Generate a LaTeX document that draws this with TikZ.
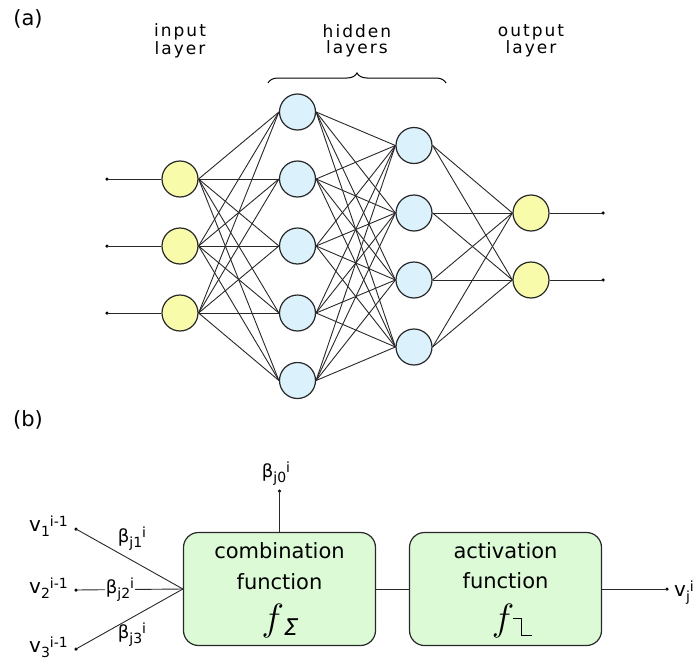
\RequirePackage{fix-cm}
\documentclass[tikz,border=0pt]{standalone}
\usepackage{fontspec}
\setmainfont{DejaVu Sans}
\newfontfamily\spacedfont[LetterSpace=12]{DejaVu Sans}
\usetikzlibrary{decorations.pathreplacing}
\definecolor{nn_yellow}{RGB}{248, 251, 170}
\definecolor{nn_blue}{RGB}{219, 241, 252}
\definecolor{nn_green}{RGB}{221, 250, 215}
\definecolor{nn_line}{RGB}{40, 40, 40}
\tikzstyle{yn}=[circle,fill=nn_yellow,draw=nn_line,
  line width=1.2pt,inner sep=0pt,minimum size=36pt]
\tikzstyle{bn}=[circle,fill=nn_blue,draw=nn_line,
  line width=1.2pt,inner sep=0pt,minimum size=36pt]
\tikzstyle{fbox}=[rectangle,rounded corners=15pt,fill=nn_green,draw=nn_line,
  line width=1.2pt,minimum width=192pt,minimum height=113pt]
\tikzstyle{dot}=[circle,fill=black,inner sep=0pt,minimum size=3.5pt]
\tikzstyle{edge}=[draw=nn_line,line width=0.9pt]
\tikzstyle{layer}=[align=center,inner sep=0pt,
  font=\spacedfont\fontsize{17}{15.5}\selectfont]
\tikzstyle{lbl}=[inner sep=0pt,font=\fontsize{20}{20}\selectfont]
\tikzstyle{blbl}=[inner sep=0pt,font=\fontsize{18}{18}\selectfont]
\tikzstyle{btext}=[inner sep=0pt,anchor=base,font=\fontsize{21}{21}\selectfont]
\tikzstyle{none}=[]
\newcommand{\idx}[2]{%
  \raisebox{-5pt}{\fontsize{14}{14}\selectfont #1}%
  \raisebox{5pt}{\fontsize{14}{14}\selectfont #2}}

\begin{document}
\begin{tikzpicture}[x=1pt, y=-1pt]
            \useasboundingbox (0, 0) rectangle (697, 664);
            % (a) network
            \node [style=dot] (0) at (107, 179) {};
            \node [style=dot] (1) at (107, 246) {};
            \node [style=dot] (2) at (107, 313) {};
            \node [style=yn] (3) at (180, 179) {};
            \node [style=yn] (4) at (180, 246) {};
            \node [style=yn] (5) at (180, 313) {};
            \node [style=bn] (6) at (297.5, 112) {};
            \node [style=bn] (7) at (297.5, 179) {};
            \node [style=bn] (8) at (297.5, 246) {};
            \node [style=bn] (9) at (297.5, 313) {};
            \node [style=bn] (10) at (297.5, 380.5) {};
            \node [style=bn] (11) at (414, 145.5) {};
            \node [style=bn] (12) at (414, 213) {};
            \node [style=bn] (13) at (414, 280) {};
            \node [style=bn] (14) at (414, 347) {};
            \node [style=yn] (15) at (531, 213) {};
            \node [style=yn] (16) at (531, 280) {};
            \node [style=dot] (17) at (603, 213) {};
            \node [style=dot] (18) at (603, 280) {};
            \node [style=none, font=\fontsize{21}{21}\selectfont] (19) at (28, 19) {(a)};
            \node [style=layer] (20) at (180, 41) {input\\layer};
            \node [style=layer] (21) at (357, 41) {hidden\\layers};
            \node [style=layer] (22) at (531, 41) {output\\layer};
            \draw [line width=1pt, decorate, decoration={brace, amplitude=10pt}] (268, 83) -- (446, 83);
            \draw [style=edge] (0.center) to (3.west);
            \draw [style=edge] (1.center) to (4.west);
            \draw [style=edge] (2.center) to (5.west);
            \draw [style=edge] (3.east) to (6.west);
            \draw [style=edge] (3.east) to (7.west);
            \draw [style=edge] (3.east) to (8.west);
            \draw [style=edge] (3.east) to (9.west);
            \draw [style=edge] (3.east) to (10.west);
            \draw [style=edge] (4.east) to (6.west);
            \draw [style=edge] (4.east) to (7.west);
            \draw [style=edge] (4.east) to (8.west);
            \draw [style=edge] (4.east) to (9.west);
            \draw [style=edge] (4.east) to (10.west);
            \draw [style=edge] (5.east) to (6.west);
            \draw [style=edge] (5.east) to (7.west);
            \draw [style=edge] (5.east) to (8.west);
            \draw [style=edge] (5.east) to (9.west);
            \draw [style=edge] (5.east) to (10.west);
            \draw [style=edge] (6.east) to (11.west);
            \draw [style=edge] (6.east) to (12.west);
            \draw [style=edge] (6.east) to (13.west);
            \draw [style=edge] (6.east) to (14.west);
            \draw [style=edge] (7.east) to (11.west);
            \draw [style=edge] (7.east) to (12.west);
            \draw [style=edge] (7.east) to (13.west);
            \draw [style=edge] (7.east) to (14.west);
            \draw [style=edge] (8.east) to (11.west);
            \draw [style=edge] (8.east) to (12.west);
            \draw [style=edge] (8.east) to (13.west);
            \draw [style=edge] (8.east) to (14.west);
            \draw [style=edge] (9.east) to (11.west);
            \draw [style=edge] (9.east) to (12.west);
            \draw [style=edge] (9.east) to (13.west);
            \draw [style=edge] (9.east) to (14.west);
            \draw [style=edge] (10.east) to (11.west);
            \draw [style=edge] (10.east) to (12.west);
            \draw [style=edge] (10.east) to (13.west);
            \draw [style=edge] (10.east) to (14.west);
            \draw [style=edge] (11.east) to (15.west);
            \draw [style=edge] (11.east) to (16.west);
            \draw [style=edge] (12.east) to (15.west);
            \draw [style=edge] (12.east) to (16.west);
            \draw [style=edge] (13.east) to (15.west);
            \draw [style=edge] (13.east) to (16.west);
            \draw [style=edge] (14.east) to (15.west);
            \draw [style=edge] (14.east) to (16.west);
            \draw [style=edge] (15.east) to (17.center);
            \draw [style=edge] (16.east) to (18.center);
            % (b) single neuron
            \node [style=none, font=\fontsize{21}{21}\selectfont] (23) at (28, 420) {(b)};
            \node [style=dot] (24) at (76, 529) {};
            \node [style=dot] (25) at (76, 590) {};
            \node [style=dot] (26) at (76, 649) {};
            \node [style=dot] (27) at (279.5, 491) {};
            \node [style=dot] (28) at (667, 589) {};
            \node [style=fbox] (29) at (279.5, 589) {};
            \node [style=fbox] (30) at (505.5, 589) {};
            \draw [style=edge] (24.center) to (29.west);
            \draw [style=edge] (25.center) to (29.west);
            \draw [style=edge] (26.center) to (29.west);
            \draw [style=edge] (27.center) to (29.north);
            \draw [style=edge] (29.east) to (30.west);
            \draw [style=edge] (30.east) to (28.center);
            \node [style=lbl, anchor=base east] (31) at (68, 531) {v\idx{1}{i-1}};
            \node [style=lbl, anchor=base east] (32) at (68, 593) {v\idx{2}{i-1}};
            \node [style=lbl, anchor=base east] (33) at (68, 652) {v\idx{3}{i-1}};
            \node [style=lbl, anchor=base west] (34) at (674, 596) {v\idx{j}{i}};
            \node [style=blbl] (35) at (132, 539) {β\idx{j1}{i}};
            \node [style=blbl, fill=white, inner sep=1pt] (36) at (120, 590) {β\idx{j2}{i}};
            \node [style=blbl] (37) at (132, 635) {β\idx{j3}{i}};
            \node [style=blbl] (38) at (276, 474) {β\idx{j0}{i}};
            \node [style=btext] (39) at (279.5, 558) {combination};
            \node [style=btext] (40) at (279.5, 589) {function};
            \node [style=btext] (41) at (280, 630) {{\fontsize{38}{38}\selectfont$f$}\raisebox{-5pt}{\fontsize{23}{23}\selectfont\itshape Σ}};
            \node [style=btext] (42) at (505.5, 558) {activation};
            \node [style=btext] (43) at (505.5, 588) {function};
            \node [style=btext] (44) at (503, 630) {\fontsize{38}{38}\selectfont$f$};
            \draw [line width=1pt] (513, 618) -- (521, 618) -- (521, 635) -- (532, 635);
\end{tikzpicture}
\end{document}
